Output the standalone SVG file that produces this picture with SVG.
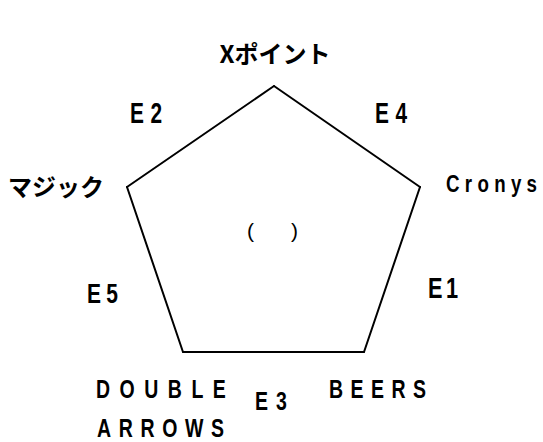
<svg xmlns="http://www.w3.org/2000/svg" width="543" height="442" viewBox="0 0 543 442">
<style>
  .edge { stroke: #000; stroke-width: 2; fill: none; stroke-linecap: round; }
  .lbl { font-family: "Liberation Sans", Arial, sans-serif; fill: #000; font-weight: bold; }
  .jp { font-family: "Noto Sans CJK JP", "Noto Sans", sans-serif; font-weight: bold; fill: #000; font-size: 24px; }
</style>
<rect width="543" height="442" fill="#fff"/>
<g id="connectors">
  <line class="edge" x1="420" y1="187" x2="364" y2="352"/>
  <line class="edge" x1="127" y1="187" x2="274" y2="86"/>
  <line class="edge" x1="364" y1="352" x2="183" y2="352"/>
  <line class="edge" x1="274" y1="86" x2="420" y2="187"/>
  <line class="edge" x1="183" y1="352" x2="127" y2="187"/>
  <text class="lbl" font-size="29" transform="translate(428,298) scale(0.75,1)" style="letter-spacing:4.5px">E1</text>
  <text class="lbl" font-size="29" transform="translate(130,123) scale(0.72,1)" style="letter-spacing:9px">E2</text>
  <text class="lbl" font-size="25" transform="translate(255,410) scale(0.78,1)" style="letter-spacing:10.4px">E3</text>
  <text class="lbl" font-size="29" transform="translate(375,123) scale(0.72,1)" style="letter-spacing:9px">E4</text>
  <text class="lbl" font-size="28" transform="translate(87,303) scale(0.75,1)" style="letter-spacing:7px">E5</text>
</g>
<g id="node-xpoint">
  <text class="jp" x="275" y="63" text-anchor="middle">Xポイント</text>
</g>
<g id="node-cronys">
  <text class="lbl" font-size="24" transform="translate(446,192) scale(0.78,1)" style="letter-spacing:6.8px">Cronys</text>
</g>
<g id="node-beers">
  <text class="lbl" font-size="25" transform="translate(329,398) scale(0.78,1)" style="letter-spacing:9.6px">BEERS</text>
</g>
<g id="node-double-arrows">
  <text class="lbl" font-size="25" transform="translate(96,398) scale(0.78,1)" style="letter-spacing:12.2px">DOUBLE</text>
  <text class="lbl" font-size="25" transform="translate(97,437) scale(0.78,1)" style="letter-spacing:9.8px">ARROWS</text>
</g>
<g id="node-magic">
  <text class="jp" x="56" y="196" text-anchor="middle">マジック</text>
</g>
<g id="center">
  <text class="lbl" font-size="21" x="247" y="238" style="letter-spacing:15.6px;font-weight:normal">( )</text>
</g>
</svg>
